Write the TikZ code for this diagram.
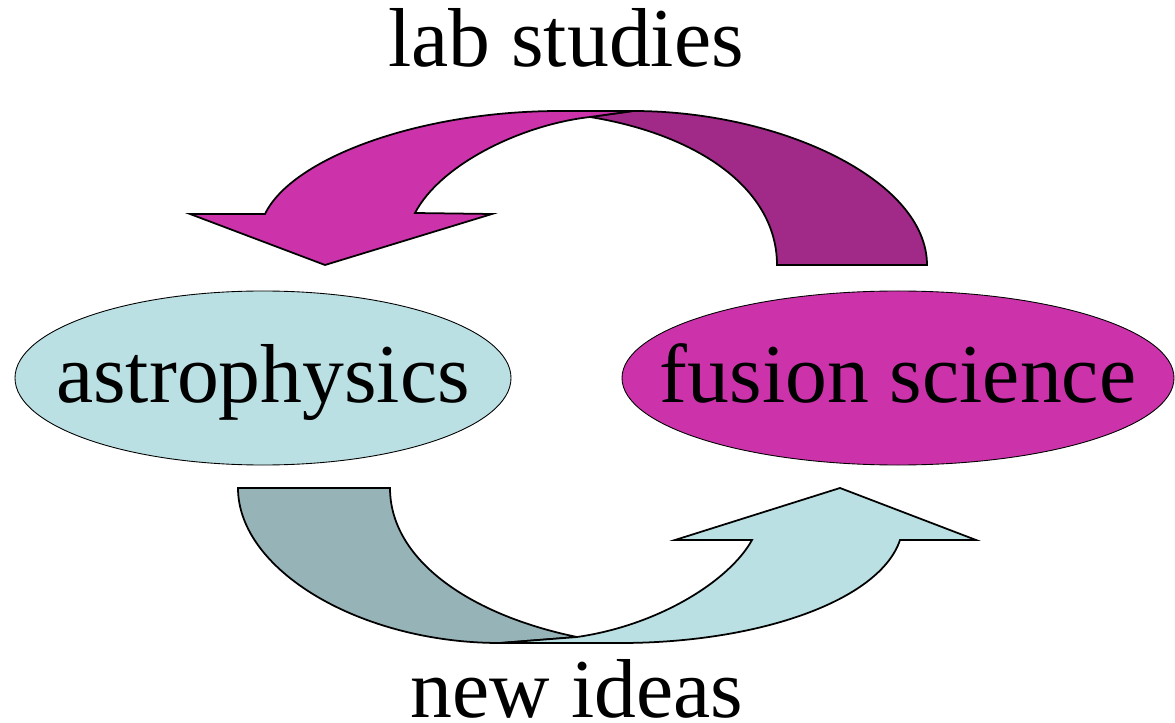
\documentclass[tikz,border=0pt]{standalone}
\usepackage{fontspec}
\setmainfont{Liberation Serif}
\definecolor{fusionpink}{RGB}{204, 51, 170}
\definecolor{fusiondark}{RGB}{161, 41, 135}
\definecolor{astrocyan}{RGB}{186, 224, 227}
\definecolor{astrodark}{RGB}{150, 179, 184}
\usetikzlibrary{shapes.geometric}

\begin{document}
\begin{tikzpicture}[
  x=0.2mm, y=-0.2mm,
  blob/.style={ellipse, draw=black, line width=0.5pt, inner sep=0pt, minimum height=34.8mm},
  word/.style={font=\fontsize{47.6}{50}\selectfont, inner sep=0pt, text height=12mm, text depth=2.4mm},
  face/.style={draw=black, line width=1pt, line join=miter}
]
  \useasboundingbox (0,0) rectangle (1175,723);

  % upper arrow: back of the ribbon, then the front with the head
  \filldraw[face, fill=fusiondark] (590,117) -- (633,111) .. controls (780,111) and (927,180) .. (927,265)
    -- (777,265) .. controls (777,190) and (700,135) .. (590,117) -- cycle;
  \filldraw[face, fill=fusionpink] (265,214) .. controls (292,158) and (420,111) .. (560,111) -- (633,111)
    -- (590,117) .. controls (520,125) and (440,165) .. (415,213)
    -- (492,214) -- (325,265) -- (190,214) -- cycle;

  % lower arrow
  \filldraw[face, fill=astrodark] (238,488) -- (390,488) .. controls (390,560) and (470,615) .. (577,637)
    -- (500,643) .. controls (360,643) and (238,570) .. (238,488) -- cycle;
  \filldraw[face, fill=astrocyan] (500,643) -- (620,643) .. controls (760,643) and (880,600) .. (900,540)
    -- (976,540) -- (840,488) -- (675,540) -- (752,540)
    .. controls (730,580) and (660,625) .. (577,637) -- cycle;

  \node[blob, fill=astrocyan, minimum width=99.2mm] (astro) at (263,378) {};
  \node[blob, fill=fusionpink, minimum width=110.4mm] (fusion) at (898,378) {};
  \node[word] (astroname) at (astro) {astrophysics};
  \node[word] (fusionname) at (fusion) {fusion science};

  \node[word, anchor=base] (lab) at (566,67) {lab studies};
  \node[word, anchor=base, text depth=0pt] (ideas) at (577,717) {new ideas};
\end{tikzpicture}
\end{document}
